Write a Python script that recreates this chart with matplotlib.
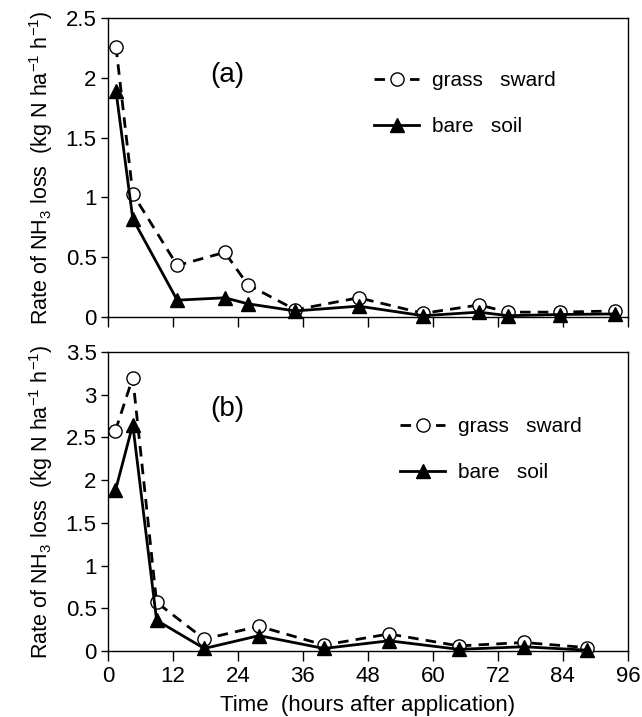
import matplotlib
matplotlib.use('Agg')
import matplotlib.pyplot as plt

plt.rcParams['font.family'] = ['Liberation Sans', 'DejaVu Sans']
plt.rcParams['mathtext.fontset'] = 'custom'
plt.rcParams['mathtext.rm'] = 'Liberation Sans'
plt.rcParams['mathtext.it'] = 'Liberation Sans'

# (a) - hours after application and loss rates
time_a = [1.5, 4.6, 12.8, 21.6, 25.8, 34.6, 46.3, 58.2, 68.5, 73.9, 83.4, 93.7]
grass_a = [2.26, 1.03, 0.43, 0.54, 0.27, 0.06, 0.16, 0.03, 0.10, 0.04, 0.04, 0.05]
bare_a = [1.89, 0.82, 0.14, 0.16, 0.11, 0.05, 0.09, 0.01, 0.04, 0.01, 0.02, 0.025]

# (b)
time_b = [1.4, 4.6, 9.0, 17.8, 27.9, 39.9, 51.9, 64.8, 76.8, 88.5]
grass_b = [2.58, 3.20, 0.57, 0.14, 0.29, 0.07, 0.20, 0.06, 0.10, 0.04]
bare_b = [1.88, 2.65, 0.36, 0.03, 0.18, 0.03, 0.12, 0.02, 0.05, 0.01]

x_ticks = list(range(0, 97, 12))
ylabel = r'Rate of NH$_3$ loss  (kg N ha$^{-1}$ h$^{-1}$)'

fig = plt.figure(figsize=(6.42, 7.17), dpi=100)
ax1 = fig.add_axes([0.168, 0.558, 0.81, 0.417])
ax2 = fig.add_axes([0.168, 0.092, 0.81, 0.417])


def draw_panel(ax, t, grass, bare, ymax, tag, leg_x, leg_y):
    ax.plot(t, grass, color='black', lw=2.0, dashes=[3.8, 2.6],
            marker='o', ms=9.5, mfc='white', mec='black', mew=1.0,
            clip_on=False, zorder=3, label='grass   sward')
    ax.plot(t, bare, color='black', lw=2.0,
            marker='^', ms=10, mfc='black', mec='black',
            clip_on=False, zorder=4, label='bare   soil')
    ax.set_xlim(0, 96)
    ax.set_ylim(0, ymax)
    ax.set_xticks(x_ticks)
    ax.set_yticks([i * 0.5 for i in range(int(ymax / 0.5) + 1)])
    ax.set_yticklabels(['0' if v == 0 else ('%g' % v) for v in ax.get_yticks()])
    ax.tick_params(axis='both', direction='out', labelsize=16, width=1.0)
    ax.tick_params(axis='x', length=7)
    ax.tick_params(axis='y', length=5, pad=3)
    for s in ax.spines.values():
        s.set_linewidth(1.0)
    ax.set_ylabel(ylabel, fontsize=15.5, labelpad=8)
    ax.text(0.23, 0.81, tag, transform=ax.transAxes, fontsize=20,
            ha='center', va='center')
    ax.legend(loc='upper left', bbox_to_anchor=(leg_x, leg_y), frameon=False,
              fontsize=15, handlelength=2.2, handletextpad=0.6,
              labelspacing=1.3)


draw_panel(ax1, time_a, grass_a, bare_a, 2.5, '(a)', 0.475, 0.885)
ax1.set_xticklabels([])
draw_panel(ax2, time_b, grass_b, bare_b, 3.5, '(b)', 0.525, 0.845)
ax2.set_xlabel('Time  (hours after application)', fontsize=16, labelpad=6)

fig.savefig('out.png', dpi=100)
